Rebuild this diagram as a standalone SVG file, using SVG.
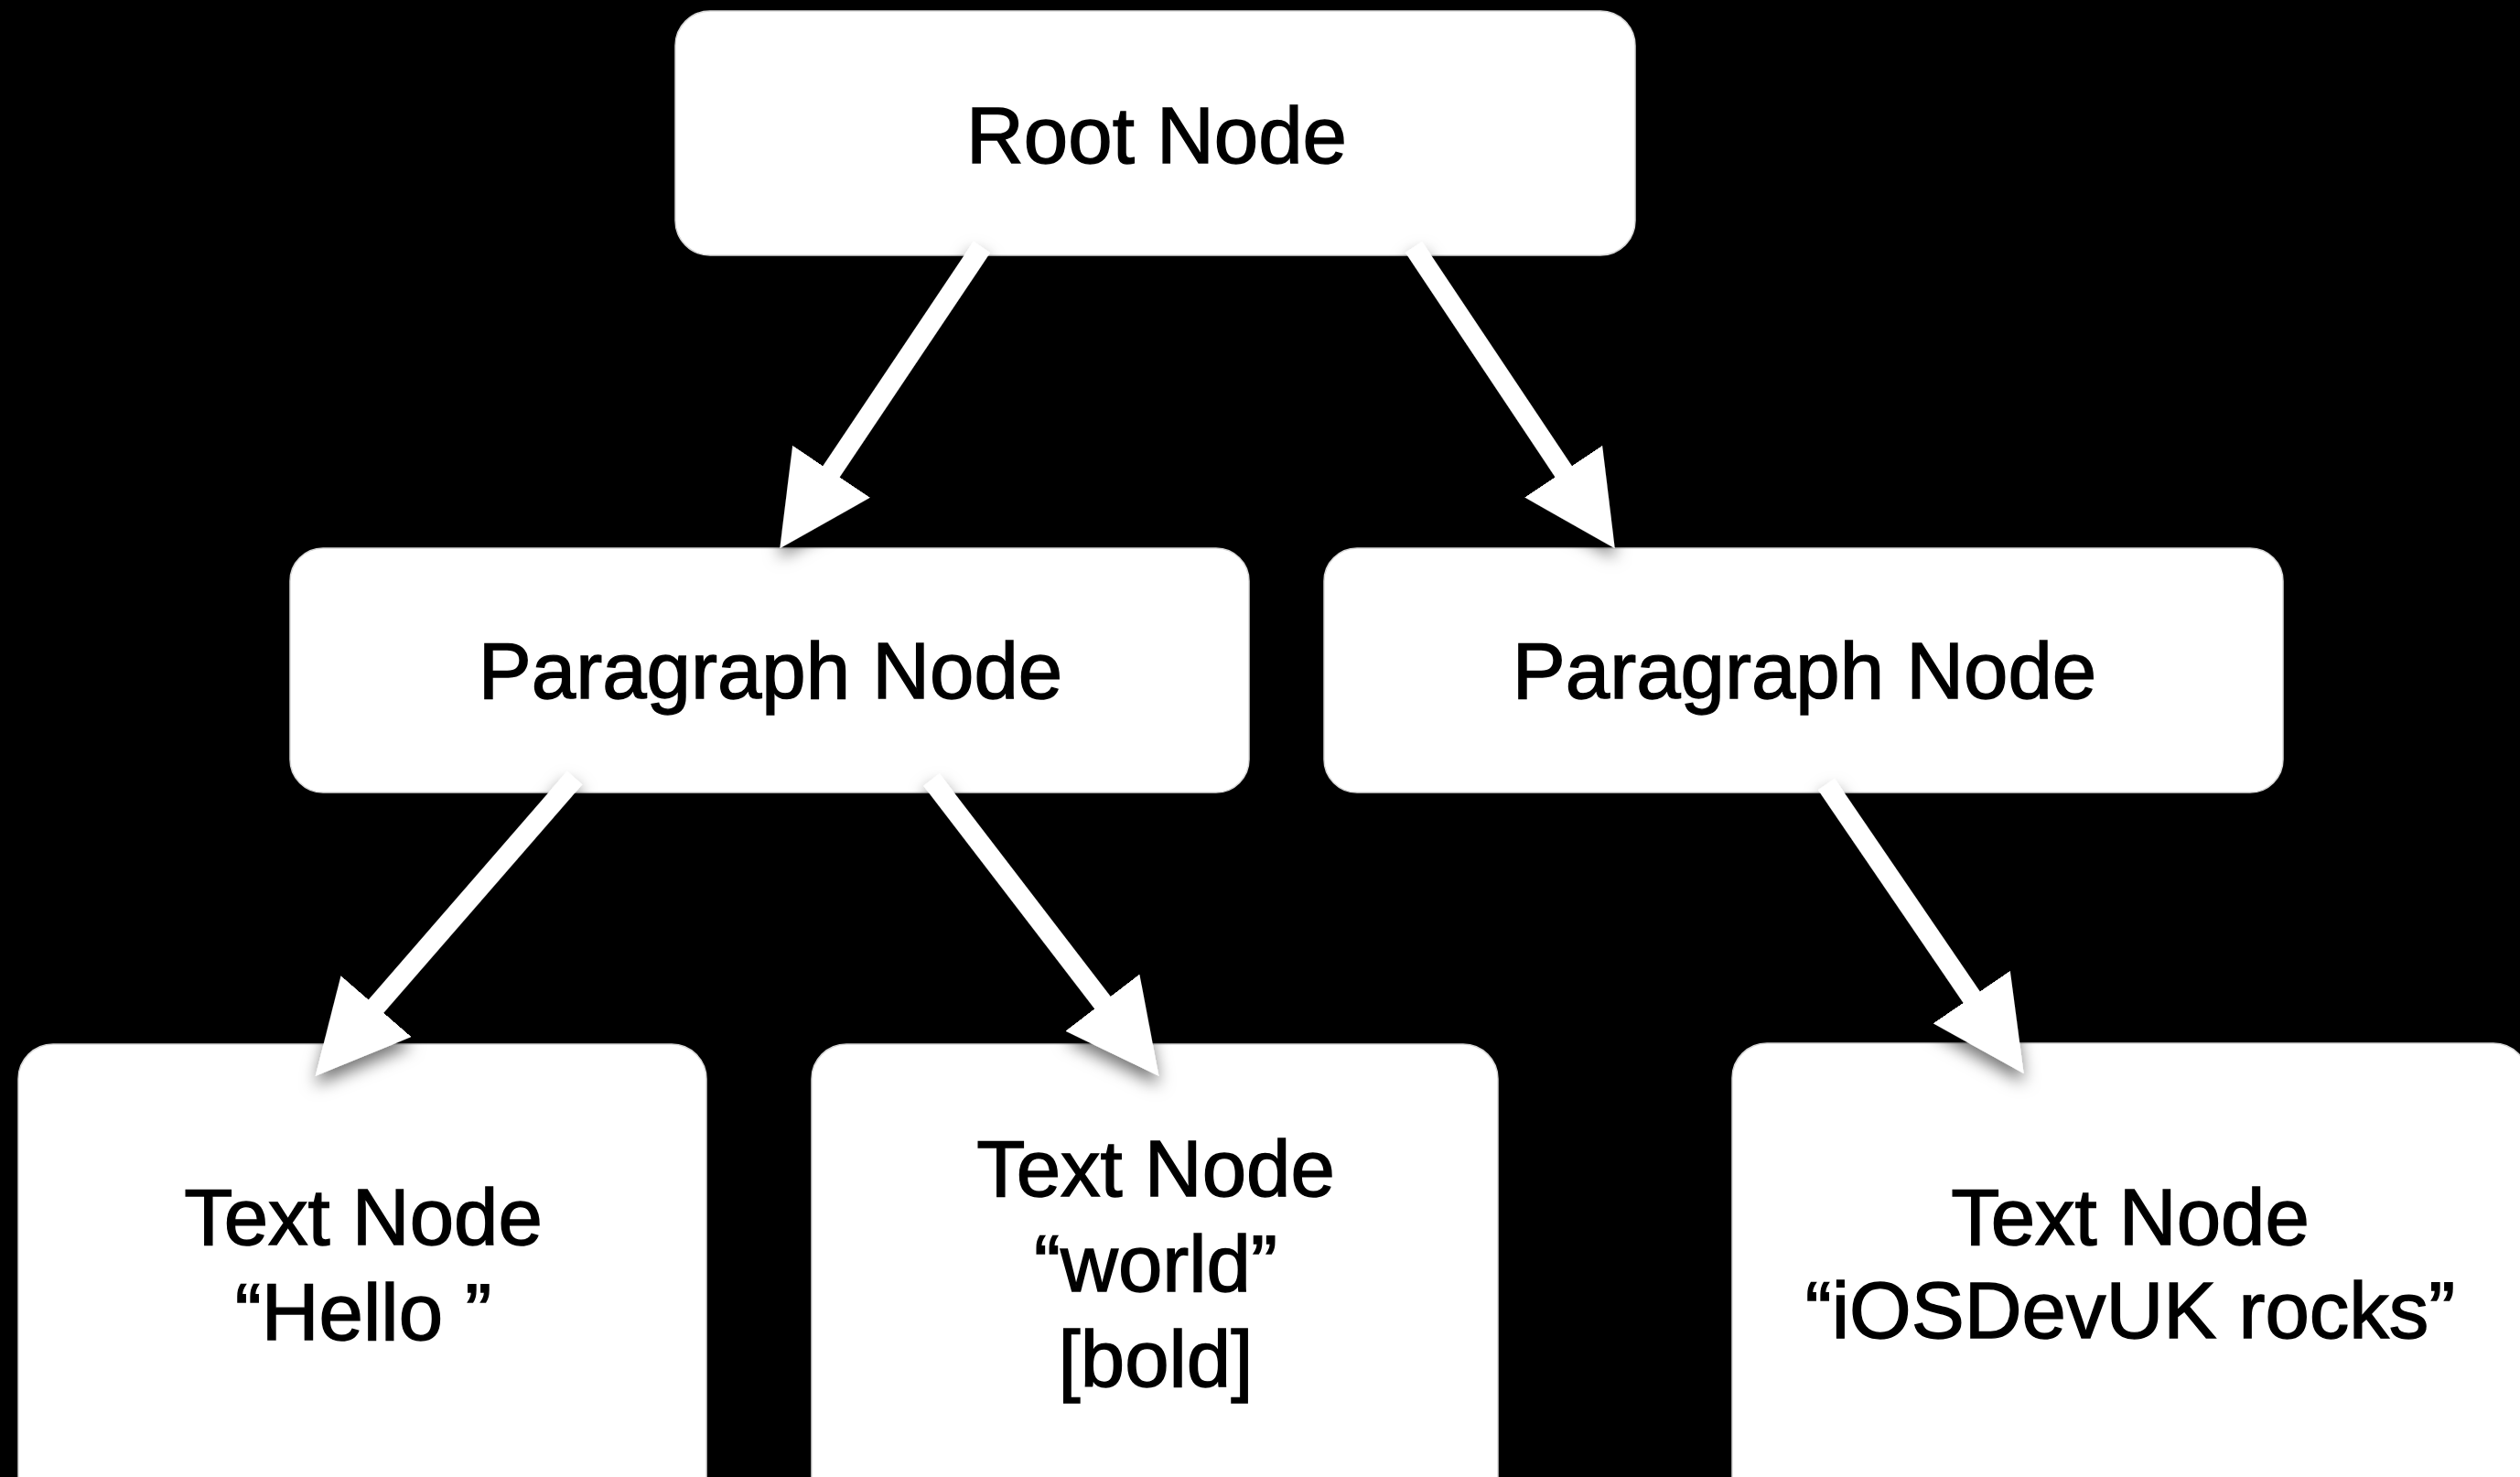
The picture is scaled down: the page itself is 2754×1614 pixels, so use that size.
<svg xmlns="http://www.w3.org/2000/svg" width="2754" height="1614" viewBox="0 0 2754 1614">
  <style>
    .box { fill: #ffffff; stroke: #d8d8d8; stroke-width: 1.5; }
    .lbl { font-family: "Liberation Sans", Arial, Helvetica, sans-serif; font-size: 87px; fill: #000000; stroke: #000000; stroke-width: 1.4; text-anchor: middle; }
    .edge { stroke: #ffffff; stroke-width: 22; fill: none; stroke-linecap: butt; marker-end: url(#head); }
  </style>
  <defs>
    <marker id="head" markerUnits="userSpaceOnUse" viewBox="0 0 101 102" markerWidth="101" markerHeight="102" refX="11" refY="51" orient="auto">
      <path d="M0,0 L101,51 L0,102 Z" fill="#ffffff"/>
    </marker>
    <filter id="shadow" x="-20%" y="-20%" width="140%" height="140%">
      <feDropShadow dx="0" dy="10" stdDeviation="9" flood-color="#000000" flood-opacity="0.55"/>
    </filter>
  </defs>
  <rect x="0" y="0" width="2754" height="1614" fill="#000000"/>

  <g id="root-node">
    <rect class="box" x="738" y="12" width="1049" height="267" rx="38" ry="38"/>
    <text class="lbl" x="1264" y="178">Root Node</text>
  </g>
  <g id="paragraph-node-1">
    <rect class="box" x="317" y="599" width="1048" height="267" rx="36" ry="36"/>
    <text class="lbl" x="842" y="763">Paragraph Node</text>
  </g>
  <g id="paragraph-node-2">
    <rect class="box" x="1447" y="599" width="1048" height="267" rx="36" ry="36"/>
    <text class="lbl" x="1972" y="763">Paragraph Node</text>
  </g>
  <g id="text-node-hello">
    <rect class="box" x="20" y="1141" width="752" height="520" rx="38" ry="38"/>
    <text class="lbl" x="397" y="1360">Text Node</text>
    <text class="lbl" x="397" y="1464" xml:space="preserve">“Hello ”</text>
  </g>
  <g id="text-node-world">
    <rect class="box" x="887" y="1141" width="750" height="520" rx="38" ry="38"/>
    <text class="lbl" x="1263" y="1307">Text Node</text>
    <text class="lbl" x="1263" y="1411">“world”</text>
    <text class="lbl" x="1263" y="1515">[bold]</text>
  </g>
  <g id="text-node-iosdevuk">
    <rect class="box" x="1893" y="1140" width="870" height="520" rx="38" ry="38"/>
    <text class="lbl" x="2328" y="1360">Text Node</text>
    <text class="lbl" x="2328" y="1462">“iOSDevUK rocks”</text>
  </g>

  <g id="connectors" filter="url(#shadow)">
    <line class="edge" x1="1073" y1="270" x2="902.4" y2="524.4"/>
    <line class="edge" x1="1545" y1="270" x2="1714.8" y2="524.3"/>
    <line class="edge" x1="628" y1="850" x2="403.8" y2="1107.9"/>
    <line class="edge" x1="1018" y1="852" x2="1211.6" y2="1104.3"/>
    <line class="edge" x1="1996" y1="857" x2="2160.9" y2="1098.7"/>
  </g>
</svg>
